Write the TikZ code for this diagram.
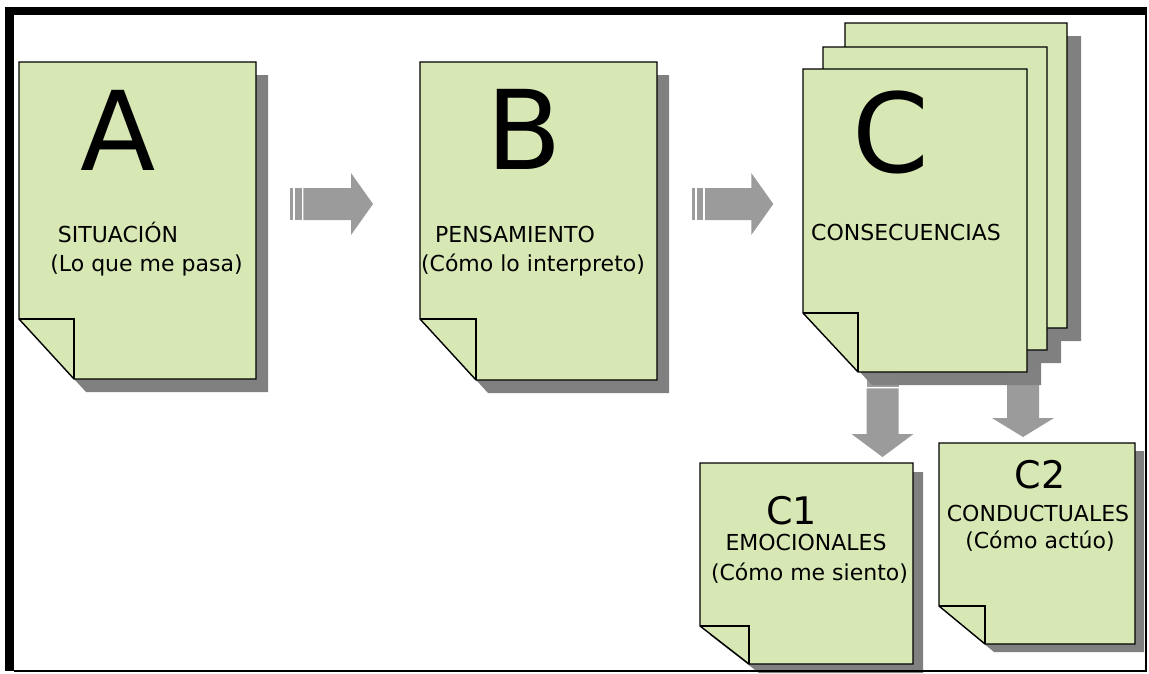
\documentclass[tikz,border=0pt]{standalone}
\usepackage{fontspec}
\setmainfont{DejaVu Sans}
\usepackage{tikz}

\definecolor{pagegreen}{RGB}{216,232,180}
\definecolor{shadowgray}{RGB}{128,128,128}
\definecolor{arrowgray}{RGB}{130,130,130}

\tikzset{
  pageline/.style={draw=black, fill=pagegreen, line width=1.4pt, line join=miter},
  bigletter/.style={font=\fontsize{110}{110}\selectfont, anchor=base, inner sep=0pt},
  midletter/.style={font=\fontsize{38}{38}\selectfont, anchor=base, inner sep=0pt},
  pagetext/.style={font=\fontsize{22}{22}\selectfont, anchor=base, inner sep=0pt}
}

% dog-eared page: left, top, right, bottom, fold width, fold height
\newcommand{\docpage}[6]{%
  \path[pageline] (#1,#2) -- (#3,#2) -- (#3,#4) -- ({#1+#5},#4) -- (#1,{#4-#6}) -- cycle;
  \draw[line width=1.4pt] (#1,{#4-#6}) -- ({#1+#5},{#4-#6}) -- ({#1+#5},#4);
}
% shadow of a page: left, top, right, bottom, fold width, fold height, dx, dy
\newcommand{\docshadow}[8]{%
  \fill[shadowgray] ({#1+#7},{#2+#8}) -- ({#3+#7},{#2+#8}) -- ({#3+#7},{#4+#8})
    -- ({#1+#5+#7},{#4+#8}) -- ({#1+#7},{#4-#6+#8}) -- cycle;
}
% striped block arrow: start, angle, length, head length
\newcommand{\blockarrow}[4]{%
  \begin{scope}[shift={(#1)}, rotate=#2, fill=arrowgray, fill opacity=.8]
    \fill (0,-16) rectangle (3.3,16);
    \fill (5,-16) rectangle (11.6,16);
    \fill (13.3,-16) -- ({#3-#4},-16) -- ({#3-#4},-31) -- (#3,0)
      -- ({#3-#4},31) -- ({#3-#4},16) -- (13.3,16) -- cycle;
  \end{scope}
}

\begin{document}
\begin{tikzpicture}[x=1pt, y=-1pt]
    \useasboundingbox (0,0) rectangle (1149,673);

    % shadows
    \docshadow{19}{62}{256}{379}{55}{60}{12}{13}
    \docshadow{420}{62}{657}{380}{56}{61}{12}{13}
    \docshadow{845}{23}{1067}{328}{55}{59}{14}{13}
    \docshadow{823}{47}{1047}{350}{55}{59}{14}{13}
    \docshadow{803}{69}{1027}{372}{55}{59}{14}{13}
    \docshadow{700}{463}{913}{664}{49}{38}{10}{9}
    \docshadow{939}{443}{1135}{644}{46}{38}{9}{8}

    % arrows
    \coordinate (ab) at (290,204);
    \coordinate (bc) at (691.7,204);
    \coordinate (cc1) at (882.5,375);
    \coordinate (cc2) at (1023,364);
    \blockarrow{ab}{0}{83}{22}
    \blockarrow{bc}{0}{81.6}{22}
    \blockarrow{cc1}{-90}{82}{23}
    \blockarrow{cc2}{-90}{73}{19}

    % pages
    \docpage{19}{62}{256}{379}{55}{60}
    \docpage{420}{62}{657}{380}{56}{61}
    \docpage{845}{23}{1067}{328}{55}{59}
    \docpage{823}{47}{1047}{350}{55}{59}
    \docpage{803}{69}{1027}{372}{55}{59}
    \docpage{700}{463}{913}{664}{49}{38}
    \docpage{939}{443}{1135}{644}{46}{38}

    % texts
    \node[bigletter] (A) at (118,170) {A};
    \node[pagetext] (sit) at (118,242) {SITUACIÓN};
    \node[pagetext] (sitsub) at (146.5,271) {(Lo que me pasa)};

    \node[bigletter] (B) at (524,169) {B};
    \node[pagetext] (pen) at (515,242) {PENSAMIENTO};
    \node[pagetext] (pensub) at (533,271) {(Cómo lo interpreto)};

    \node[bigletter] (C) at (891,172) {C};
    \node[pagetext] (con) at (906,240) {CONSECUENCIAS};

    \node[midletter] (C1) at (791.5,524) {C1};
    \node[pagetext] (emo) at (806,550) {EMOCIONALES};
    \node[pagetext] (emosub) at (809.5,580) {(Cómo me siento)};

    \node[midletter] (C2) at (1040,488) {C2};
    \node[pagetext] (cond) at (1038,521) {CONDUCTUALES};
    \node[pagetext] (condsub) at (1040,548) {(Cómo actúo)};

    % frame
    \fill (5,7) rectangle (1147,15);
    \fill (5,7) rectangle (14,671);
    \draw[line width=2pt] (1145.5,15) -- (1145.5,671) -- (14,671);
\end{tikzpicture}
\end{document}
